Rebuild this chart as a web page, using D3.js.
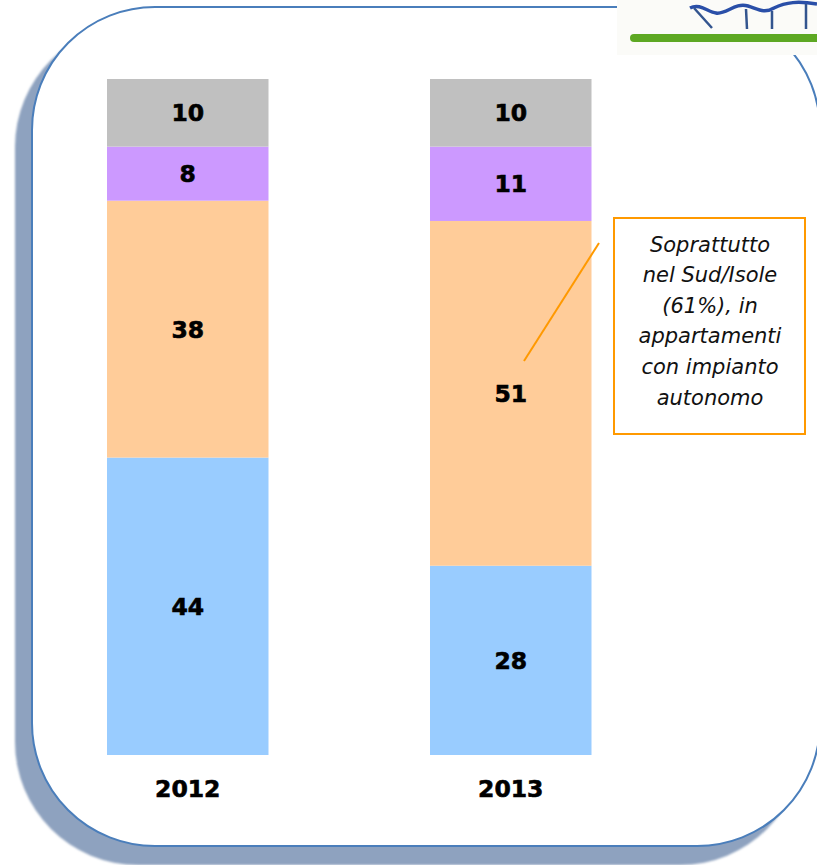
<!DOCTYPE html>
<meta charset="utf-8">
<script src="https://d3js.org/d3.v7.min.js"></script>
<style>
  body { margin: 0; background: #fff; }
</style>
<body>
<div id="chart"></div>
<script>
// data (percent, stacked bottom to top)
var years = ["2012", "2013"];
var seriesNames = ["blue", "orange", "purple", "grey"];
var blueValues = [44, 28];
var orangeValues = [38, 51];
var purpleValues = [8, 11];
var greyValues = [10, 10];
var seriesColors = ["#99CCFF", "#FFCC99", "#CC99FF", "#C0C0C0"];
var noteLines = ["Soprattutto", "nel Sud/Isole", "(61%), in", "appartamenti", "con impianto", "autonomo"];

var width = 817, height = 865;

var svg = d3.select("#chart")
  .append("svg")
    .attr("width", width)
    .attr("height", height);

// frame: shadow + rounded white panel
var defs = svg.append("defs");
defs.append("filter").attr("id", "soft")
  .append("feGaussianBlur").attr("stdDeviation", 0.8);

svg.append("rect")
  .attr("x", 15).attr("y", 24)
  .attr("width", 788).attr("height", 841)
  .attr("rx", 123).attr("ry", 123)
  .attr("fill", "#8EA2BF")
  .attr("filter", "url(#soft)");

svg.append("rect")
  .attr("x", 32).attr("y", 7)
  .attr("width", 788).attr("height", 839)
  .attr("rx", 123).attr("ry", 123)
  .attr("fill", "#fff")
  .attr("stroke", "#4A7EBB")
  .attr("stroke-width", 2);

// logo patch in the top right corner
var logo = svg.append("g");
logo.append("rect")
  .attr("x", 617).attr("y", 0)
  .attr("width", 200).attr("height", 55)
  .attr("fill", "#FBFBF8");
logo.append("line")
  .attr("x1", 634).attr("y1", 38).attr("x2", 817).attr("y2", 38)
  .attr("stroke", "#5DA823").attr("stroke-width", 8)
  .attr("stroke-linecap", "round");
logo.append("path")
  .attr("d", "M690,8 C700,3 708,12 716,13 C726,15 735,2 748,6 C758,9 764,14 774,8 C786,2 798,1 817,4")
  .attr("fill", "none").attr("stroke", "#2A4FA8").attr("stroke-width", 3.5);
logo.append("path")
  .attr("d", "M694,8 L712,28 M746,9 L747,29 M772,11 L772,29 M806,4 L806,29")
  .attr("fill", "none").attr("stroke", "#33558F").attr("stroke-width", 2.5);

// scales
var x = d3.scaleBand()
  .domain(years)
  .range([26.25, 672.25])
  .paddingInner(0.5)
  .paddingOuter(0.25);

var y = d3.scaleLinear()
  .domain([0, 100])
  .range([755, 79]);

var table = years.map(function(yr, i) {
  return { year: yr, blue: blueValues[i], orange: orangeValues[i], purple: purpleValues[i], grey: greyValues[i] };
});

var stacked = d3.stack().keys(seriesNames)(table);

var layers = svg.append("g")
  .selectAll("g")
  .data(stacked)
  .enter()
  .append("g")
    .attr("fill", function(d, i) { return seriesColors[i]; });

layers.selectAll("rect")
  .data(function(d) { return d; })
  .enter()
  .append("rect")
    .attr("x", function(d) { return x(d.data.year); })
    .attr("y", function(d) { return y(d[1]); })
    .attr("width", x.bandwidth())
    .attr("height", function(d) { return y(d[0]) - y(d[1]); });

layers.selectAll("text")
  .data(function(d) { return d; })
  .enter()
  .append("text")
    .attr("x", function(d) { return x(d.data.year) + x.bandwidth() / 2; })
    .attr("y", function(d) { return (y(d[0]) + y(d[1])) / 2; })
    .attr("dy", "0.36em")
    .attr("text-anchor", "middle")
    .style("font-family", "'DejaVu Sans', Verdana, sans-serif")
    .style("font-weight", "bold")
    .style("font-size", "23.5px")
    .attr("fill", "#000")
    .attr("stroke", "#000")
    .attr("stroke-width", 0.6)
    .text(function(d) { return d[1] - d[0]; });

// year labels
svg.append("g")
  .attr("transform", "translate(0,789)")
  .call(d3.axisBottom(x).tickSize(0).tickPadding(0))
  .call(function(g) { g.select(".domain").remove(); })
  .selectAll("text")
    .attr("dy", "0.36em")
    .attr("y", 0)
    .attr("fill", "#000")
    .attr("stroke", "#000")
    .attr("stroke-width", 0.6)
    .style("font-family", "'DejaVu Sans', Verdana, sans-serif")
    .style("font-weight", "bold")
    .style("font-size", "23.5px");

// callout
svg.append("line")
  .attr("x1", 599).attr("y1", 243)
  .attr("x2", 524).attr("y2", 361)
  .attr("stroke", "#FF9900").attr("stroke-width", 2);

svg.append("rect")
  .attr("x", 614).attr("y", 218)
  .attr("width", 191).attr("height", 216)
  .attr("fill", "#fff")
  .attr("stroke", "#FF9900").attr("stroke-width", 2);

svg.append("g")
  .selectAll("text")
  .data(noteLines)
  .enter()
  .append("text")
    .attr("x", 710)
    .attr("y", function(d, i) { return 244 + i * 30.6; })
    .attr("dy", "0.36em")
    .attr("text-anchor", "middle")
    .style("font-family", "'DejaVu Sans', Verdana, sans-serif")
    .style("font-style", "italic")
    .style("font-size", "21px")
    .attr("fill", "#111")
    .text(function(d) { return d; });
</script>
</body>
